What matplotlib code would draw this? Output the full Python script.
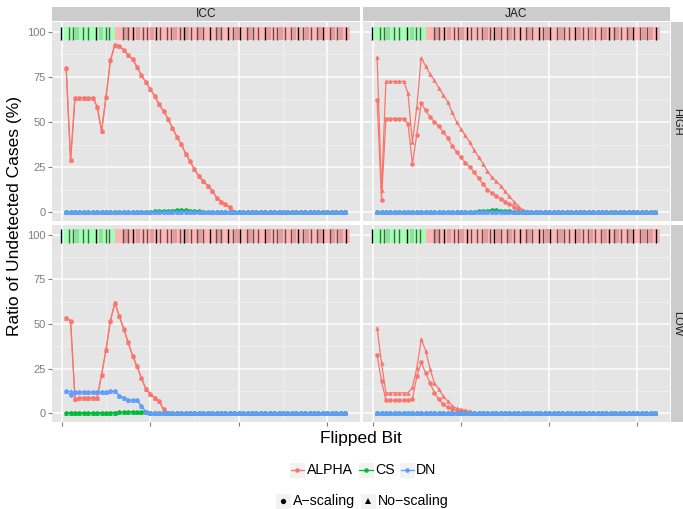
import matplotlib
matplotlib.use("Agg")
import matplotlib.pyplot as plt
from matplotlib.lines import Line2D
from matplotlib.patches import Rectangle

plt.rcParams["font.family"] = ["Liberation Sans", "DejaVu Sans"]

W, H = 683, 509

MODELS = ["ICC", "JAC"]
LEVELS = ["HIGH", "LOW"]
METHODS = ["ALPHA", "CS", "DN"]
METHOD_COLORS = {"ALPHA": "#F8766D", "CS": "#00BA38", "DN": "#619CFF"}
SCALINGS = ["A\u2212scaling", "No\u2212scaling"]
SCALING_MARKERS = {"A\u2212scaling": "o", "No\u2212scaling": "^"}
BITS = list(range(1, 65))


def pad(vals):
    """Trailing bits are all zero in every series."""
    return list(vals) + [0.0] * (64 - len(vals))


# ---- ICC / HIGH (both scalings coincide)
icc_high_alpha = pad([80, 29, 63.6, 63.6, 63.6, 63.6, 63.6, 58.6, 45, 63.8,
                      84.2, 92.7, 92.4, 89.9, 87.3, 84.8, 80.7, 76, 72.1, 68.3,
                      64.5, 59.8, 56.1, 52, 46.9, 42, 37.7, 32.6, 28.3, 23.8,
                      19.9, 17.2, 14.8, 12, 8.2, 6, 4.5, 2.8, 0.3])
icc_high_cs = pad([0, 0, 0, 0, 0, 0, 0, 0, 0, 0, 0, 0, 0, 0, 0, 0, 0,
                   0.2, 0.3, 0.4, 0.5, 0.7, 0.8, 0.9, 1.0, 1.1, 1.2, 1.1,
                   1.0, 0.8, 0.6, 0.4, 0.2])
icc_high_dn = pad([])

# ---- JAC / HIGH
jac_high_alpha_a = pad([62, 6.9, 52, 52, 52, 52, 52, 49.2, 27, 43.1,
                        60.4, 56.6, 52.9, 50.1, 47.7, 44.5, 41.3, 36.9, 33.6, 30.4,
                        27.6, 25.3, 22.3, 18.8, 15.8, 12.6, 10.7, 9.2, 7.5, 6,
                        4.5, 3.2, 1.9, 0.7])
jac_high_alpha_n = pad([86, 12.2, 72.6, 72.6, 72.6, 72.6, 72.6, 66, 38.8, 58.2,
                        85.8, 81, 76.7, 73.2, 68.9, 65.1, 61.2, 55.5, 50.1, 46.3,
                        42.6, 38.8, 34.5, 30.7, 27, 22.9, 19.5, 17.2, 14.8, 11.6,
                        8.8, 6, 3.5, 1.3])
jac_high_cs = pad([0, 0, 0, 0, 0, 0, 0, 0, 0, 0, 0, 0, 0, 0, 0, 0, 0, 0, 0, 0, 0,
                   0.2, 0.4, 0.6, 0.8, 1.0, 1.2, 1.2, 1.0, 0.8, 0.6, 0.4, 0.2])
jac_high_dn = pad([])

# ---- ICC / LOW
icc_low_alpha = pad([53.7, 51.7, 8.1, 8.5, 8.9, 8.9, 8.9, 8.9, 21.7, 35.6,
                     51.9, 61.9, 54.4, 47.4, 39.8, 32.4, 26.3, 19.8, 13.7, 10.9,
                     8.7, 6.9, 2.2])
icc_low_cs = pad([0.3, 0.3, 0.3, 0.3, 0.3, 0.3, 0.3, 0.3, 0.4, 0.4,
                  0.5, 0.5, 0.6, 0.6, 0.7, 0.8, 0.8, 0.9, 0.9])
icc_low_dn_a = pad([12.4, 10.2, 11.9, 11.9, 11.9, 11.9, 11.9, 11.9, 11.9, 11.9,
                    12.4, 12.4, 10.0, 8.7, 7.4, 7.4, 7.4, 4.1, 0.9])
icc_low_dn_n = pad([12.4, 12.4, 11.9, 11.9, 11.9, 11.9, 11.9, 11.9, 11.9, 11.9,
                    12.4, 12.4, 10.0, 8.7, 7.4, 7.4, 7.4, 4.1, 0.9])

# ---- JAC / LOW
jac_low_alpha_a = pad([32.8, 18, 7.4, 7.4, 7.4, 7.4, 7.4, 7.4, 8.1, 20.7,
                       28.7, 22.6, 17, 11.5, 7.8, 5, 3.7, 2.6, 1.9, 1.3,
                       1.0, 0.3])
jac_low_alpha_n = pad([48, 28.1, 11.5, 11.5, 11.5, 11.5, 11.5, 11.5, 14.6, 25.4,
                       41.5, 35.2, 25, 17, 13.7, 9.6, 6.9, 4.4, 2.8, 2.2,
                       1.7, 1.3])
jac_low_cs = pad([])
jac_low_dn = pad([])

SERIES = {
    ("ICC", "HIGH"): {
        ("ALPHA", SCALINGS[0]): icc_high_alpha, ("ALPHA", SCALINGS[1]): icc_high_alpha,
        ("CS", SCALINGS[0]): icc_high_cs, ("CS", SCALINGS[1]): icc_high_cs,
        ("DN", SCALINGS[0]): icc_high_dn, ("DN", SCALINGS[1]): icc_high_dn,
    },
    ("JAC", "HIGH"): {
        ("ALPHA", SCALINGS[0]): jac_high_alpha_a, ("ALPHA", SCALINGS[1]): jac_high_alpha_n,
        ("CS", SCALINGS[0]): jac_high_cs, ("CS", SCALINGS[1]): jac_high_cs,
        ("DN", SCALINGS[0]): jac_high_dn, ("DN", SCALINGS[1]): jac_high_dn,
    },
    ("ICC", "LOW"): {
        ("ALPHA", SCALINGS[0]): icc_low_alpha, ("ALPHA", SCALINGS[1]): icc_low_alpha,
        ("CS", SCALINGS[0]): icc_low_cs, ("CS", SCALINGS[1]): icc_low_cs,
        ("DN", SCALINGS[0]): icc_low_dn_a, ("DN", SCALINGS[1]): icc_low_dn_n,
    },
    ("JAC", "LOW"): {
        ("ALPHA", SCALINGS[0]): jac_low_alpha_a, ("ALPHA", SCALINGS[1]): jac_low_alpha_n,
        ("CS", SCALINGS[0]): jac_low_cs, ("CS", SCALINGS[1]): jac_low_cs,
        ("DN", SCALINGS[0]): jac_low_dn, ("DN", SCALINGS[1]): jac_low_dn,
    },
}

# bit-field bar drawn on top of each panel
BAR_EDGES = [-0.3, 0.4, 12.1, 65.2]
BAR_COLORS = ["#CCFFFF", "#A3FFB3", "#FFB6B6"]
BAR_Y = (95.5, 103.0)
STRIPE_X = [-0.2, 1.7, 2.6, 4.8, 6.0, 7.8, 9.9, 10.7, 13.9, 15.0, 16.1, 18.4,
            19.3, 21.3, 22.2, 23.7, 24.8, 26.7, 27.6, 29.1, 30.5, 32.0, 33.5,
            34.8, 36.1, 37.6, 38.7, 40.3, 41.8, 43.3, 44.4, 45.9, 47.7, 48.7,
            50.5, 51.7, 53.5, 54.6, 56.3, 57.6, 59.1, 60.6, 62.1, 64.3]
STRIPE_ALPHA = [1, 0.6, 0.6, 0.6, 0.6, 1, 0.6, 0.6, 0.6, 0.6, 1, 0.6,
                0.6, 1, 0.6, 0.6, 0.6, 0.6, 1, 0.6, 0.6, 0.6, 1, 0.6,
                0.6, 1, 0.6, 1, 0.6, 0.6, 0.6, 1, 0.6, 0.6,
                0.6, 0.6, 1, 0.6, 0.6, 0.6, 1, 0.6, 0.6, 1]
SHADE_X = [3.5, 8.8, 14.5, 17.2, 20.3, 25.6, 28.4, 31.2, 35.5, 39.5, 42.6,
           46.8, 49.6, 52.6, 55.4, 58.3, 61.4, 63.2]


def fx(px):
    return px / W


def fy(py):
    return 1 - py / H


PANEL_X = {"ICC": (52, 360), "JAC": (363, 670)}
PANEL_Y = {"HIGH": (22, 221), "LOW": (225, 422)}
GREY_TXT = "#7F7F7F"

fig = plt.figure(figsize=(W / 100, H / 100), dpi=100)

for level in LEVELS:
    for model in MODELS:
        x0, x1 = PANEL_X[model]
        y0, y1 = PANEL_Y[level]
        ax = fig.add_axes([fx(x0), fy(y1), fx(x1) - fx(x0), fy(y0) - fy(y1)])
        ax.set_facecolor("#E5E5E5")
        for s in ax.spines.values():
            s.set_visible(False)
        ax.set_xlim(-2.2, 67.4)
        ax.set_ylim(-4.8, 105.5)
        ax.set_xticks([0, 20, 40, 60])
        ax.set_xticks([10, 30, 50], minor=True)
        ax.set_yticks([0, 25, 50, 75, 100])
        ax.set_yticks([12.5, 37.5, 62.5, 87.5], minor=True)
        ax.grid(which="major", color="white", lw=1.1)
        ax.grid(which="minor", color="#F2F2F2", lw=0.5)
        ax.set_axisbelow(True)
        ax.tick_params(which="minor", length=0)
        ax.tick_params(which="major", length=2.9, color=GREY_TXT, width=0.8,
                       labelsize=8, labelcolor=GREY_TXT, pad=1.5)
        ax.set_xticklabels([])
        if level != "LOW":
            ax.tick_params(axis="x", which="major", length=0)
        if model != "ICC":
            ax.set_yticklabels([])
            ax.tick_params(axis="y", which="major", length=0)

        # bit bar
        for left, right, col in zip(BAR_EDGES[:-1], BAR_EDGES[1:], BAR_COLORS):
            ax.add_patch(Rectangle((left, BAR_Y[0]), right - left, BAR_Y[1] - BAR_Y[0],
                                   facecolor=col, edgecolor="none", zorder=2))
        for sx in SHADE_X:
            ax.add_patch(Rectangle((sx - 0.45, BAR_Y[0]), 0.9, BAR_Y[1] - BAR_Y[0],
                                   facecolor="black", alpha=0.12, edgecolor="none", zorder=2))
        for sx, sa in zip(STRIPE_X, STRIPE_ALPHA):
            ax.vlines(sx, BAR_Y[0], BAR_Y[1], color="black", alpha=sa, lw=1.0, zorder=3)

        data = SERIES[(model, level)]
        for method in METHODS:
            for scaling in SCALINGS:
                ax.plot(BITS, data[(method, scaling)], color=METHOD_COLORS[method],
                        marker=SCALING_MARKERS[scaling], ms=3.3, mew=0, lw=0.9, zorder=4)

        if level == "HIGH":
            sax = fig.add_axes([fx(x0), fy(21), fx(x1) - fx(x0), fy(7) - fy(21)])
            sax.set_facecolor("#CCCCCC")
            sax.set_xticks([]); sax.set_yticks([])
            for s in sax.spines.values():
                s.set_visible(False)
            sax.text(0.5, 0.5, model, ha="center", va="center", fontsize=8.6,
                     color="#1A1A1A", transform=sax.transAxes)
        if model == "JAC":
            rax = fig.add_axes([fx(671), fy(y1), fx(683) - fx(671), fy(y0) - fy(y1)])
            rax.set_facecolor("#CCCCCC")
            rax.set_xticks([]); rax.set_yticks([])
            for s in rax.spines.values():
                s.set_visible(False)
            rax.text(0.5, 0.5, level, ha="center", va="center", fontsize=8.0,
                     rotation=-90, color="#1A1A1A", transform=rax.transAxes)

fig.text(fx(361), fy(438), "Flipped Bit", ha="center", va="center", fontsize=12.5)
fig.text(fx(15), fy(216), "Ratio of Undetected Cases (%)", ha="center", va="center",
         rotation=90, fontsize=12.5)


# manual ggplot-style legends
def legend_key(px_left, py_center, color, marker, line=True):
    size = 16
    fig.add_artist(Rectangle((fx(px_left), fy(py_center + size / 2)), size / W, size / H,
                             transform=fig.transFigure, facecolor="#F2F2F2",
                             edgecolor="white", lw=0.8))
    xm = fx(px_left + size / 2)
    if line:
        fig.add_artist(Line2D([fx(px_left + 1.5), fx(px_left + size - 1.5)],
                              [fy(py_center)] * 2, transform=fig.transFigure,
                              color=color, lw=0.9))
    fig.add_artist(Line2D([xm], [fy(py_center)], transform=fig.transFigure,
                          color=color, marker=marker, ms=3.3 if line else 3.8, mew=0, lw=0))


for (key_px, txt_px), method in zip([(289, 307), (358, 375), (399, 416)], METHODS):
    legend_key(key_px, 470, METHOD_COLORS[method], "o")
    fig.text(fx(txt_px), fy(470), method, ha="left", va="center", fontsize=10.2)

for (key_px, txt_px), scaling in zip([(275, 293), (360, 378)], SCALINGS):
    legend_key(key_px, 501, "black", SCALING_MARKERS[scaling], line=False)
    fig.text(fx(txt_px), fy(501), scaling, ha="left", va="center", fontsize=10.2)

fig.savefig("out.png", dpi=100)
